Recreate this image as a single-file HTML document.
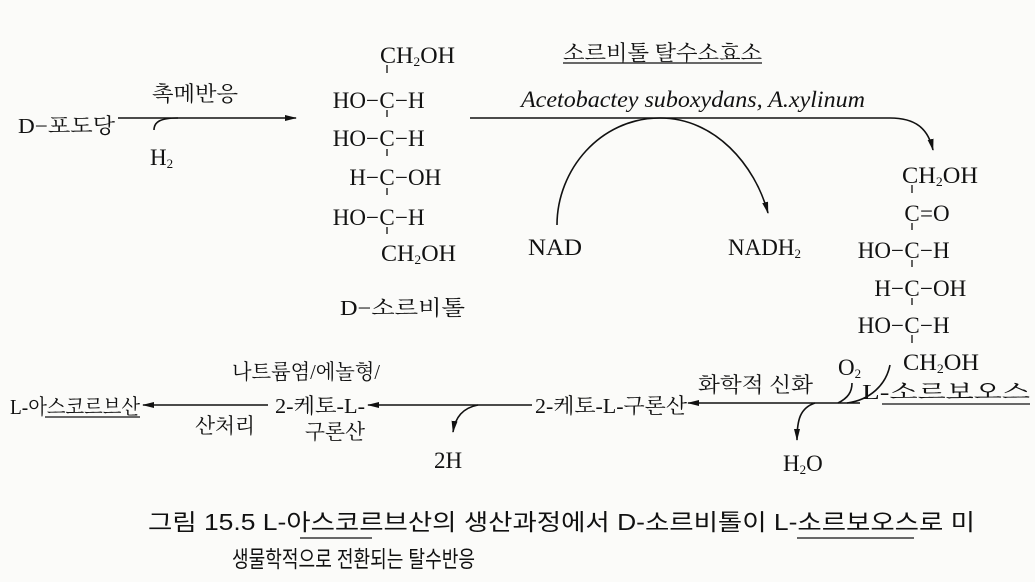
<!DOCTYPE html>
<html><head><meta charset="utf-8"><style>
html,body{margin:0;padding:0;background:#fbfbf9;}
svg{display:block}
.s{font-family:"Liberation Serif","Noto Serif CJK SC",serif;font-size:23px;fill:#111}
.k{font-family:"Liberation Serif","Noto Serif CJK SC",serif;font-size:21px;fill:#111}
.c{font-family:"Liberation Sans","Noto Sans CJK KR",sans-serif;font-size:23px;fill:#111}
.sub{font-size:13px}
</style></head><body>
<svg width="1035" height="582" viewBox="0 0 1035 582" xmlns="http://www.w3.org/2000/svg">
<defs>
<marker id="a" markerWidth="12" markerHeight="8" refX="11" refY="4" orient="auto" markerUnits="userSpaceOnUse">
<path d="M0,1 L12,4 L0,7 Z" fill="#111"/></marker>
</defs>
<g stroke="#111" stroke-width="1.6" fill="none">
<line x1="118" y1="118" x2="296" y2="118" marker-end="url(#a)"/>
<path d="M154,130 C154,122 160,118 178,118"/>
<path d="M470,118 L890,118 C915,118 928,128 933,150" marker-end="url(#a)"/>
<path d="M557,225 C557,170 600,118 660,118 C715,118 755,165 768,213" marker-end="url(#a)"/>
<line x1="860" y1="403" x2="688" y2="403" marker-end="url(#a)"/>
<path d="M847,403 C870,400 886,385 890,365"/>
<path d="M838,403 C848,398 852,392 852,383"/>
<path d="M815,403 C800,408 797,420 797,440" marker-end="url(#a)"/>
<line x1="532" y1="405" x2="368" y2="405" marker-end="url(#a)"/>
<path d="M478,405 C462,408 455,418 453,432" marker-end="url(#a)"/>
<line x1="268" y1="405" x2="143" y2="405" marker-end="url(#a)"/>
<g stroke-width="1.3">
<line x1="387" y1="65" x2="387" y2="73"/>
<line x1="387" y1="110" x2="387" y2="117"/>
<line x1="387" y1="149" x2="387" y2="156"/>
<line x1="387" y1="188" x2="387" y2="195"/>
<line x1="387" y1="227" x2="387" y2="234"/>
<line x1="912" y1="185" x2="912" y2="193"/>
<line x1="912" y1="223" x2="912" y2="230"/>
<line x1="912" y1="260" x2="912" y2="267"/>
<line x1="912" y1="298" x2="912" y2="305"/>
<line x1="912" y1="335" x2="912" y2="343"/>
</g>
<g stroke-width="1.2">
<line x1="563" y1="63" x2="762" y2="63"/>
<line x1="882" y1="404" x2="1030" y2="404"/>
<line x1="45" y1="417" x2="140" y2="417"/>
<line x1="797" y1="538" x2="914" y2="538"/>
<line x1="300" y1="538" x2="372" y2="538"/>
</g>
</g>
<text class="k" x="18" y="133" textLength="97" lengthAdjust="spacingAndGlyphs">D−포도당</text>
<text class="k" x="152" y="101" textLength="86" lengthAdjust="spacingAndGlyphs">촉메반응</text>
<text class="s" x="150" y="165">H<tspan class="sub" dy="3">2</tspan></text>
<text class="s" x="380" y="63" textLength="75" lengthAdjust="spacingAndGlyphs">CH<tspan class="sub" dy="3">2</tspan><tspan dy="-3">OH</tspan></text>
<g class="s">
<text x="387" y="108" text-anchor="middle">C</text><text x="379" y="108" text-anchor="end">HO−</text><text x="395" y="108">−H</text>
<text x="387" y="146" text-anchor="middle">C</text><text x="379" y="146" text-anchor="end">HO−</text><text x="395" y="146">−H</text>
<text x="387" y="185" text-anchor="middle">C</text><text x="379" y="185" text-anchor="end">H−</text><text x="395" y="185">−OH</text>
<text x="387" y="225" text-anchor="middle">C</text><text x="379" y="225" text-anchor="end">HO−</text><text x="395" y="225">−H</text>
</g>
<text class="s" x="381" y="261" textLength="75" lengthAdjust="spacingAndGlyphs">CH<tspan class="sub" dy="3">2</tspan><tspan dy="-3">OH</tspan></text>
<text class="k" x="340" y="315" textLength="125" lengthAdjust="spacingAndGlyphs">D−소르비톨</text>
<text class="k" x="563" y="60" textLength="199" lengthAdjust="spacingAndGlyphs">소르비톨 탈수소효소</text>
<text class="s" x="521" y="107" font-style="italic" font-size="20" textLength="344" lengthAdjust="spacingAndGlyphs">Acetobactey  suboxydans,  A.xylinum</text>
<text class="s" x="528" y="255" textLength="54" lengthAdjust="spacingAndGlyphs">NAD</text>
<text class="s" x="728" y="255">NADH<tspan class="sub" dy="3">2</tspan></text>
<text class="s" x="902" y="183" textLength="76" lengthAdjust="spacingAndGlyphs">CH<tspan class="sub" dy="3">2</tspan><tspan dy="-3">OH</tspan></text>
<g class="s">
<text x="912" y="221" text-anchor="middle">C</text><text x="920" y="221">=O</text>
<text x="912" y="258" text-anchor="middle">C</text><text x="904" y="258" text-anchor="end">HO−</text><text x="920" y="258">−H</text>
<text x="912" y="296" text-anchor="middle">C</text><text x="904" y="296" text-anchor="end">H−</text><text x="920" y="296">−OH</text>
<text x="912" y="333" text-anchor="middle">C</text><text x="904" y="333" text-anchor="end">HO−</text><text x="920" y="333">−H</text>
</g>
<text class="s" x="903" y="370" textLength="76" lengthAdjust="spacingAndGlyphs">CH<tspan class="sub" dy="3">2</tspan><tspan dy="-3">OH</tspan></text>
<text class="k" x="862" y="399" textLength="168" lengthAdjust="spacingAndGlyphs">L-소르보오스</text>
<text class="s" x="838" y="375">O<tspan class="sub" dy="3">2</tspan></text>
<text class="k" x="698" y="392" textLength="115" lengthAdjust="spacingAndGlyphs">화학적 신화</text>
<text class="s" x="783" y="471">H<tspan class="sub" dy="3">2</tspan><tspan dy="-3">O</tspan></text>
<text class="k" x="535" y="413" textLength="152" lengthAdjust="spacingAndGlyphs">2-케토-L-구론산</text>
<text class="s" x="434" y="468">2H</text>
<text class="k" x="232" y="379" textLength="148" lengthAdjust="spacingAndGlyphs">나트륨염/에놀형/</text>
<text class="k" x="275" y="413" textLength="90" lengthAdjust="spacingAndGlyphs">2-케토-L-</text>
<text class="k" x="305" y="439" textLength="60" lengthAdjust="spacingAndGlyphs">구론산</text>
<text class="k" x="195" y="433" textLength="60" lengthAdjust="spacingAndGlyphs">산처리</text>
<text class="k" x="10" y="414" textLength="130" lengthAdjust="spacingAndGlyphs">L-아스코르브산</text>
<text class="c" x="148" y="530" textLength="827" lengthAdjust="spacingAndGlyphs">그림  15.5 L-아스코르브산의 생산과정에서  D-소르비톨이  L-소르보오스로  미</text>
<text class="c" x="232" y="567" textLength="243" lengthAdjust="spacingAndGlyphs">생물학적으로 전환되는 탈수반응</text>
</svg>
</body></html>
